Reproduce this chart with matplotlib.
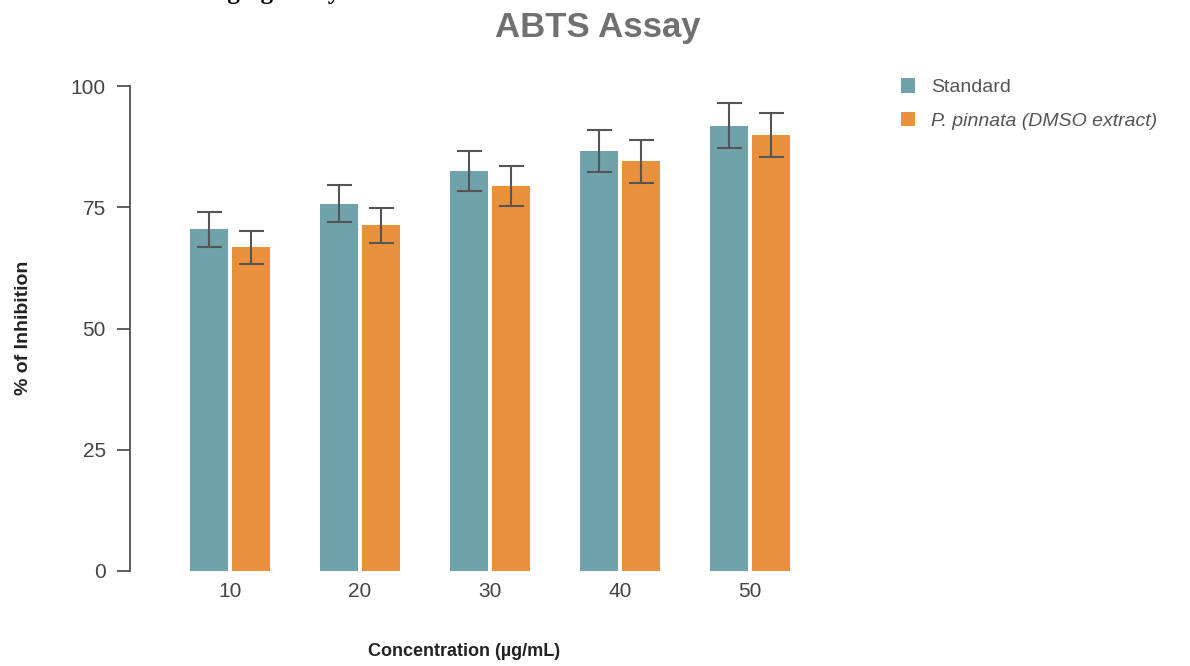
import numpy as np
import matplotlib
matplotlib.use('Agg')
import matplotlib.pyplot as plt

plt.rcParams['font.family'] = ['Liberation Sans', 'DejaVu Sans']

# data
concentrations = ['10', '20', '30', '40', '50']
standard = [70.5, 75.7, 82.5, 86.6, 91.8]
standard_sd = [3.6, 3.8, 4.1, 4.3, 4.6]
extract = [66.8, 71.3, 79.4, 84.5, 89.9]
extract_sd = [3.4, 3.6, 4.2, 4.4, 4.5]

teal = '#6fa2ab'
orange = '#e9913a'

fig = plt.figure(figsize=(11.9, 6.66), dpi=100)
ax = fig.add_axes([130/1190, 1 - 571/666, 720/1190, 485/666])

x = np.arange(len(concentrations))
w = 0.292
off = 0.1615
err_kw = dict(ecolor='#555555', elinewidth=1.5, capsize=9, capthick=1.5)
ax.bar(x - off, standard, w, color=teal, yerr=standard_sd, error_kw=err_kw, label='Standard')
ax.bar(x + off, extract, w, color=orange, yerr=extract_sd, error_kw=err_kw,
       label='P. pinnata (DMSO extract)')

ax.set_xlim(-100/130, 620/130)
ax.set_ylim(0, 100)
ax.set_yticks([0, 25, 50, 75, 100])
ax.set_xticks(x)
ax.set_xticklabels(concentrations)
for s in ['top', 'right', 'bottom']:
    ax.spines[s].set_visible(False)
ax.spines['left'].set_color('#444444')
ax.spines['left'].set_linewidth(1.2)
ax.tick_params(axis='y', length=9.4, width=1.2, color='#444444', pad=8,
               labelsize=15, labelcolor='#444444')
ax.tick_params(axis='x', length=0, pad=8, labelsize=15, labelcolor='#444444')

ax.text((464 - 130) / 720, (571 - 652) / 485, 'Concentration (µg/mL)', transform=ax.transAxes,
        ha='center', va='center', fontsize=13, fontweight='bold', color='#222222')
fig.text(24/1190, 1 - 328/666, '% of Inhibition', rotation=90, ha='center', va='center',
         fontsize=14, fontweight='bold', color='#222222')

fig.text(598/1190, 1 - 28/666, 'ABTS Assay', ha='center', va='center',
         fontsize=25, fontweight='bold', color='#707070')

# heading of the page, cut at the top edge
fig.text(340/1190, 1 + 1/666, '2. Radical Scavenging Assay', ha='right', va='baseline',
         fontsize=18, fontweight='bold', family='Liberation Serif', color='black')

leg = fig.legend(loc='upper left', bbox_to_anchor=(883/1190, 1 - 61/666), frameon=False,
                 handlelength=0.75, handleheight=0.75, handletextpad=0.8,
                 labelspacing=0.8, fontsize=14)
for t in leg.get_texts():
    t.set_color('#555555')
leg.get_texts()[1].set_style('italic')

fig.savefig('out.png', dpi=100)
